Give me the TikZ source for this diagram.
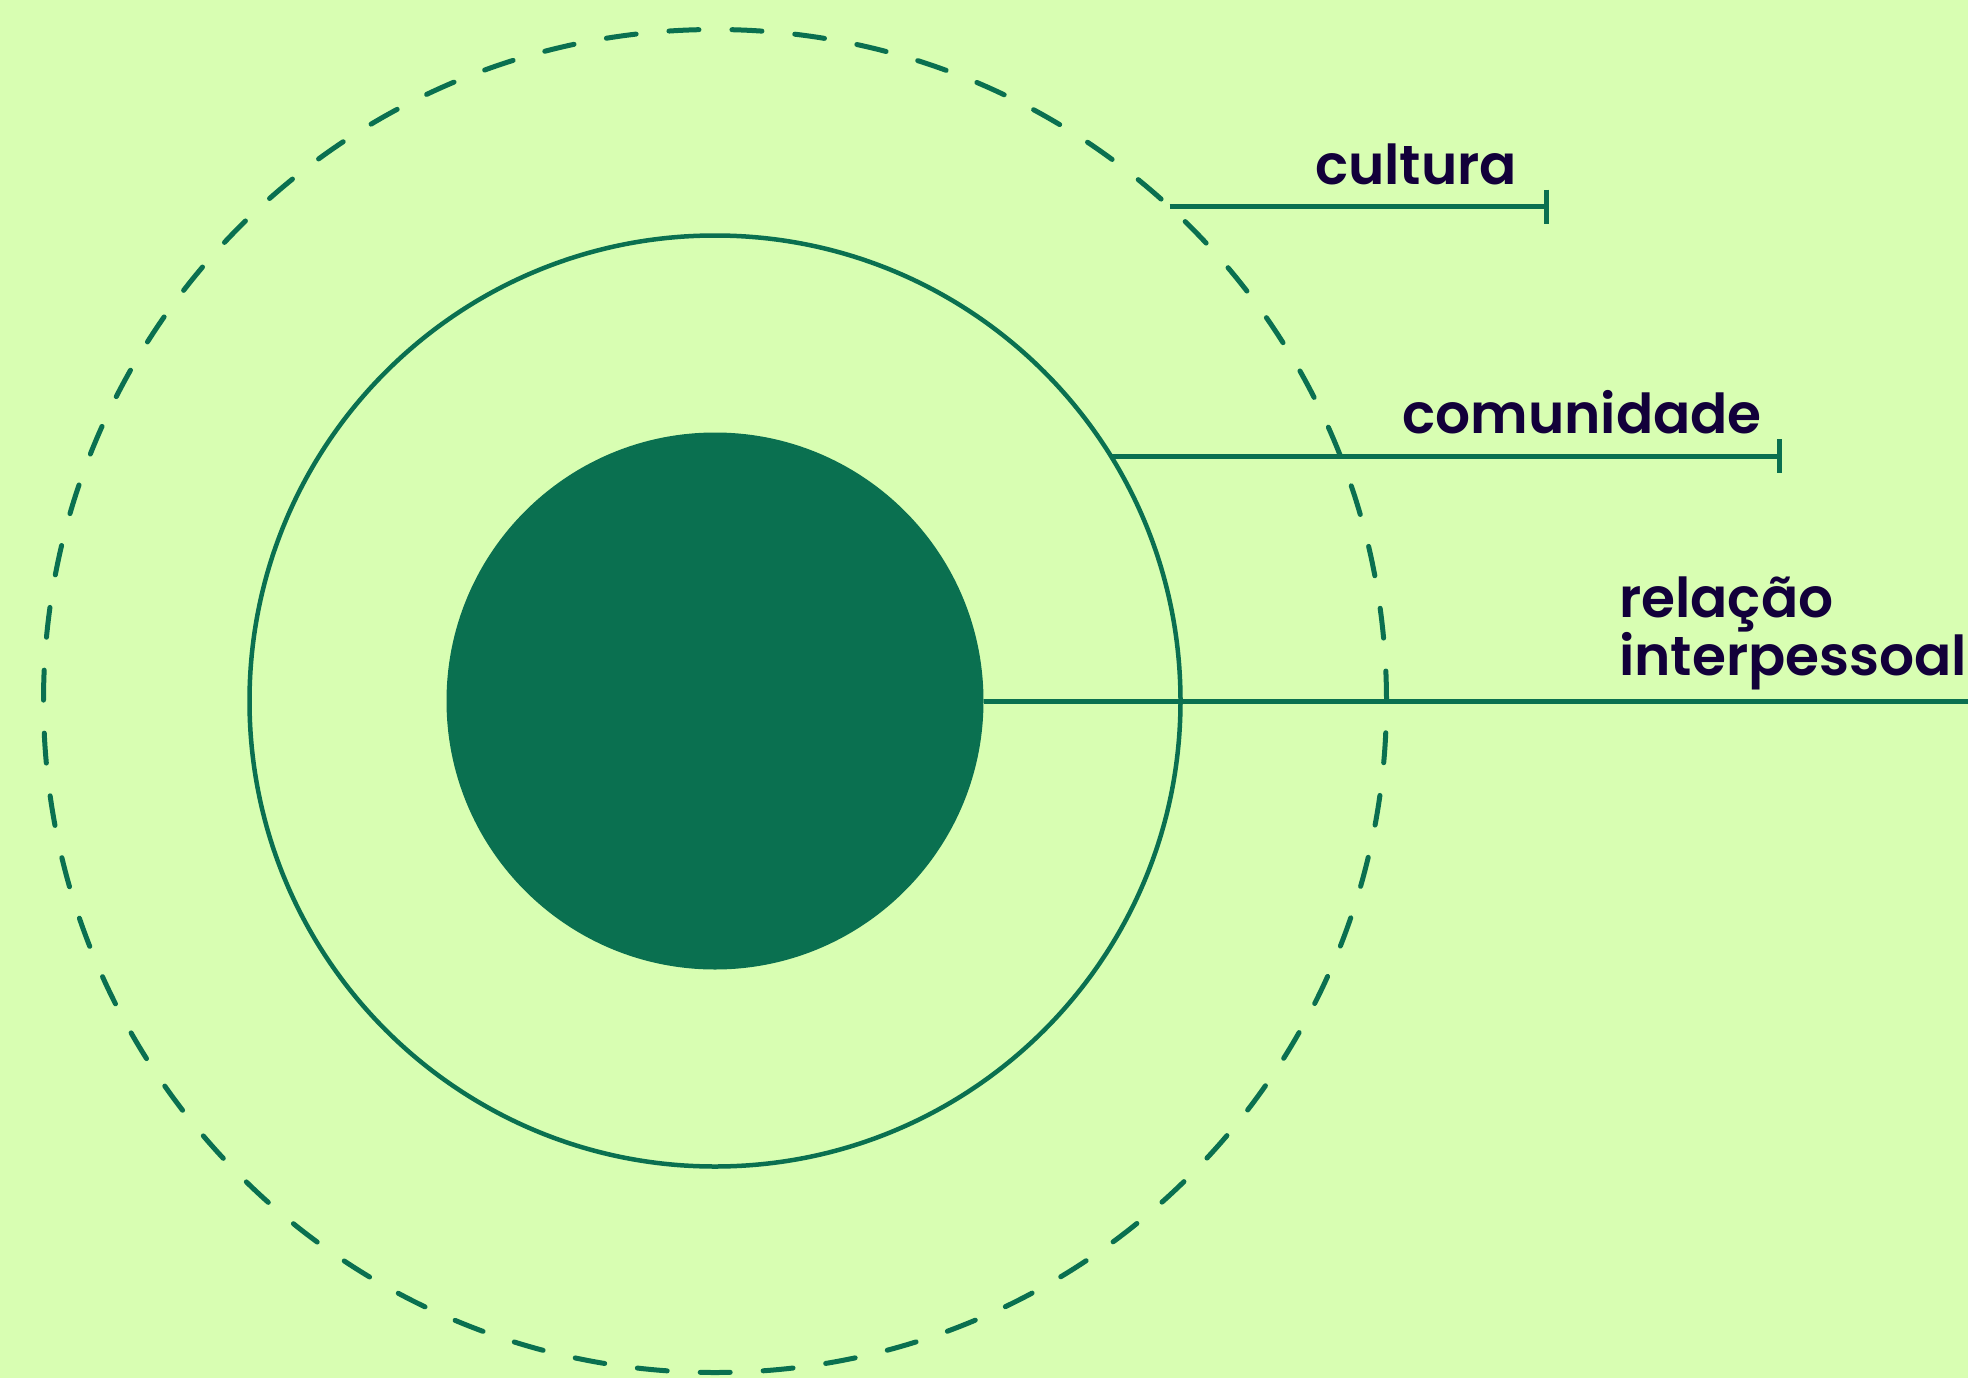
\documentclass[tikz,border=0pt]{standalone}
\usepackage{fontspec}
\newfontfamily\popfont{Poppins SemiBold}
\usetikzlibrary{arrows.meta,calc}
\definecolor{bg}{HTML}{D8FEB2}
\definecolor{dkgreen}{HTML}{0A7050}
\definecolor{ink}{HTML}{12003A}
\begin{document}
\begin{tikzpicture}[x=1pt,y=-1pt,
  ring/.style={circle,draw=dkgreen,line width=4.5pt,inner sep=0pt,outer sep=0pt},
  dashring/.style={circle,draw=dkgreen,line width=5pt,line cap=round,dash pattern=on 30pt off 33pt,inner sep=0pt,outer sep=0pt},
  lead/.style={draw=dkgreen,line width=5pt},
  label/.style={text=ink,font=\popfont\fontsize{55}{58}\selectfont,inner sep=0pt,anchor=base west,align=left}]
\fill[bg] (0,0) rectangle (1968,1378);
\useasboundingbox (0,0) rectangle (1968,1378);
\node[dashring,minimum size=1343pt] (outer) at (715,701) {};
\node[ring,minimum size=931pt] (mid) at (715,701) {};
\node[circle,fill=dkgreen,inner sep=0pt,outer sep=0pt,minimum size=537pt] (core) at (715,701) {};
\coordinate (s1) at ($(outer.center)+(-47.4:671.5)$);
\coordinate (s2) at ($(mid.center)+(-31.75:465.5)$);
\coordinate (e1) at (1549,207);
\coordinate (e2) at (1782,456);
\coordinate (e3) at (1968,701);
\draw[lead,-{Bar[width=34pt,line width=5pt]}] (s1) -- (s1 -| e1);
\draw[lead,-{Bar[width=34pt,line width=5pt]}] (s2) -- (s2 -| e2);
\draw[lead] (core.east) -- (e3);
\node[label] (t1) at (1315,184) {cultura};
\node[label] (t2) at (1402,433) {comunidade};
\node[label] (t3) at (1619,675) {relação\\interpessoal};
\end{tikzpicture}
\end{document}
